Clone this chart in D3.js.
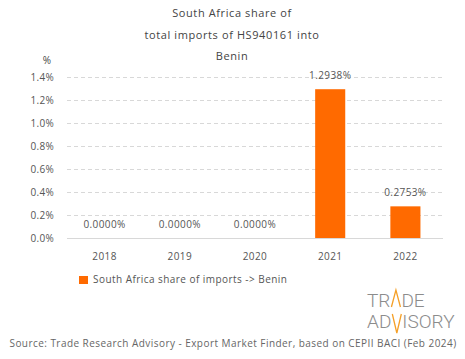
<!DOCTYPE html>
<html>
<head>
<meta charset="utf-8">
<script src="https://cdn.jsdelivr.net/npm/d3@7"></script>
<style>
  html, body { margin: 0; padding: 0; background: #fff; }
  svg { display: block; font-family: "Open Sans", sans-serif; }
</style>
</head>
<body>
<svg id="chart" width="465" height="359"></svg>
<script>
/* South Africa share of HS940161 imports into Benin */
const years  = ["2018", "2019", "2020", "2021", "2022"];
const shares = [0, 0, 0, 1.2938, 0.2753];   // percent
const yTicks = [0, 0.2, 0.4, 0.6, 0.8, 1.0, 1.2, 1.4];
const titleLines = ["South Africa share of", "total imports of HS940161 into", "Benin"];
const legendLabel = "South Africa share of imports -> Benin";
const sourceText = "Source: Trade Research Advisory - Export Market Finder, based on CEPII BACI (Feb 2024)";

const W = 465, H = 359;
const M = { top: 77, right: 22, bottom: 121, left: 67 };
const ORANGE = "#ff6a00", TXT = "#555", GRID = "#d8d8d8";

const svg = d3.select("#chart");

const x = d3.scaleBand().domain(years).range([M.left, W - M.right]).paddingInner(0.6).paddingOuter(0.3);
const y = d3.scaleLinear().domain([0, 1.4]).range([H - M.bottom, M.top]);

/* ── title ── */
svg.append("g").selectAll("text").data(titleLines).join("text")
  .attr("x", 232).attr("y", (d, i) => 17 + i * 21.5)
  .attr("text-anchor", "middle").attr("font-size", 11).attr("letter-spacing", 0.6)
  .attr("fill", "#444").text(d => d);

svg.append("text").attr("x", 47).attr("y", 64).attr("text-anchor", "middle")
  .attr("font-size", 10).attr("fill", "#444").text("%");

/* ── grid + y axis ── */
const gGrid = svg.append("g");
gGrid.selectAll("line").data(yTicks.filter(d => d > 0)).join("line")
  .attr("x1", M.left).attr("x2", W - M.right)
  .attr("y1", d => Math.round(y(d)) + 0.5).attr("y2", d => Math.round(y(d)) + 0.5)
  .attr("stroke", GRID).attr("stroke-dasharray", "4,3");

svg.append("line")
  .attr("x1", M.left).attr("x2", W - M.right)
  .attr("y1", Math.round(y(0)) + 0.5).attr("y2", Math.round(y(0)) + 0.5)
  .attr("stroke", GRID);

svg.append("g").selectAll("text").data(yTicks).join("text")
  .attr("x", 54).attr("y", d => y(d) + 3.5)
  .attr("text-anchor", "end").attr("font-size", 10).attr("letter-spacing", 0.3).attr("fill", TXT)
  .text(d => d3.format(".1f")(d) + "%");

/* ── bars ── */
svg.append("g").selectAll("rect").data(years).join("rect")
  .attr("x", (d) => x(d)).attr("width", x.bandwidth())
  .attr("y", (d, i) => y(shares[i])).attr("height", (d, i) => y(0) - y(shares[i]))
  .attr("fill", ORANGE);

svg.append("g").selectAll("text").data(years).join("text")
  .attr("x", d => x(d) + x.bandwidth() / 2)
  .attr("y", (d, i) => y(shares[i]) - 10)
  .attr("text-anchor", "middle").attr("font-size", 10).attr("letter-spacing", 0.4).attr("fill", TXT)
  .text((d, i) => d3.format(".4f")(shares[i]) + "%");

/* ── x labels ── */
svg.append("g").selectAll("text").data(years).join("text")
  .attr("x", d => x(d) + x.bandwidth() / 2).attr("y", 260)
  .attr("text-anchor", "middle").attr("font-size", 10).attr("letter-spacing", 0.4).attr("fill", TXT)
  .text(d => d);

/* ── legend ── */
svg.append("rect").attr("x", 79).attr("y", 276).attr("width", 9).attr("height", 8).attr("fill", ORANGE);
svg.append("text").attr("x", 93).attr("y", 283).attr("font-size", 10).attr("letter-spacing", 0.45)
  .attr("fill", TXT).text(legendLabel);

/* ── logo ── */
const logo = svg.append("g").attr("font-family", "Roboto, sans-serif").attr("font-weight", 300)
  .attr("font-size", 19).attr("fill", "#8c8c8c");
function logoRow(left, right, x0, base, capTop, flip) {
  const a = logo.append("text").attr("x", x0).attr("y", base).text(left);
  const x1 = x0 + a.node().getComputedTextLength();
  const gw = 11;
  const pts = flip
    ? [[x1 + 1, capTop], [x1 + gw / 2, base + 5], [x1 + gw - 1, capTop]]
    : [[x1 + 1, base], [x1 + gw / 2, capTop - 3], [x1 + gw - 1, base]];
  logo.append("path").attr("d", d3.line()(pts)).attr("fill", "none")
    .attr("stroke", "#f5a028").attr("stroke-width", 1.3);
  logo.append("text").attr("x", x1 + gw).attr("y", base).text(right);
}
logoRow("TR", "DE", 367, 307, 293, false);
logoRow("AD", "ISORY", 367, 328, 314, true);

/* ── source ── */
svg.append("text").attr("x", 233).attr("y", 347).attr("text-anchor", "middle")
  .attr("font-size", 10).attr("letter-spacing", 0.45).attr("fill", "#666").text(sourceText);
</script>
</body>
</html>
